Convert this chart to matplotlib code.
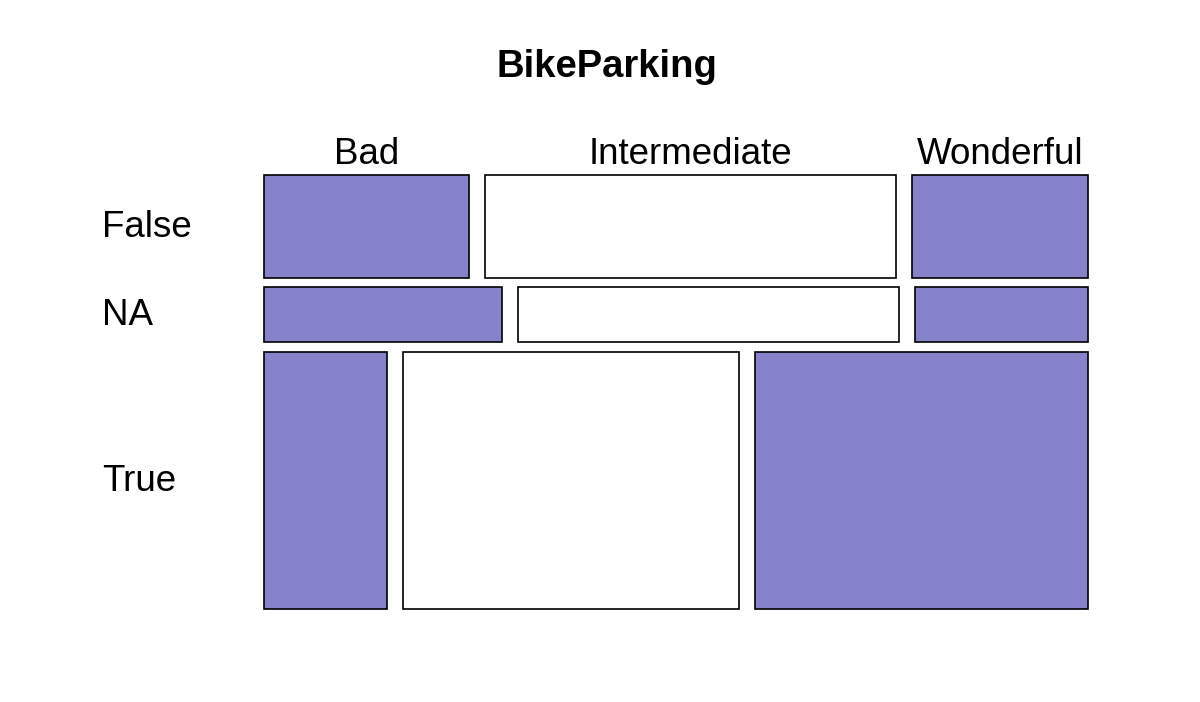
import matplotlib

matplotlib.use("Agg")

import matplotlib.pyplot as plt  # noqa: E402
from matplotlib.patches import Rectangle  # noqa: E402

plt.rcParams["font.family"] = ["Liberation Sans", "DejaVu Sans"]

title = "BikeParking"
rows = ["False", "NA", "True"]
cols = ["Bad", "Intermediate", "Wonderful"]
# counts per row (False / NA / True) across Bad / Intermediate / Wonderful
count_false = [64, 128, 55]
count_na = [40, 64, 29]
count_true = [96, 263, 260]
counts = [count_false, count_na, count_true]
fills = ["#8682cb", "white", "#8682cb"]

# plot box in pixel space
X0, X1, Y0, Y1 = 264, 1088, 175, 609
ROW_GAP, COL_GAP = 9.5, 16
LABEL_SIZE = 26.5

fig = plt.figure(figsize=(12, 7.02), dpi=100)
ax = fig.add_axes([0, 0, 1, 1])
ax.set_xlim(0, 1200)
ax.set_ylim(702, 0)
ax.axis("off")

total = sum(sum(r) for r in counts)
avail_h = (Y1 - Y0) - ROW_GAP * (len(rows) - 1)
avail_w = (X1 - X0) - COL_GAP * (len(cols) - 1)

y = Y0
for i, (name, row) in enumerate(zip(rows, counts)):
    h = sum(row) / total * avail_h
    x = X0
    for j, c in enumerate(row):
        w = c / sum(row) * avail_w
        ax.add_patch(Rectangle((x, y), w, h, facecolor=fills[j],
                               edgecolor="black", linewidth=1.2))
        if i == 0:
            ax.text(x + w / 2, 164, cols[j], ha="center", va="baseline",
                    fontsize=LABEL_SIZE)
        x += w + COL_GAP
    # baseline sits a bit below the row centre so caps look centred
    ax.text(102, y + h / 2 + 10.5, name, ha="left", va="baseline",
            fontsize=LABEL_SIZE)
    y += h + ROW_GAP

ax.text(607, 77, title, ha="center", va="baseline", fontsize=27.5,
        fontweight="bold")

fig.savefig("out.png", dpi=100)
